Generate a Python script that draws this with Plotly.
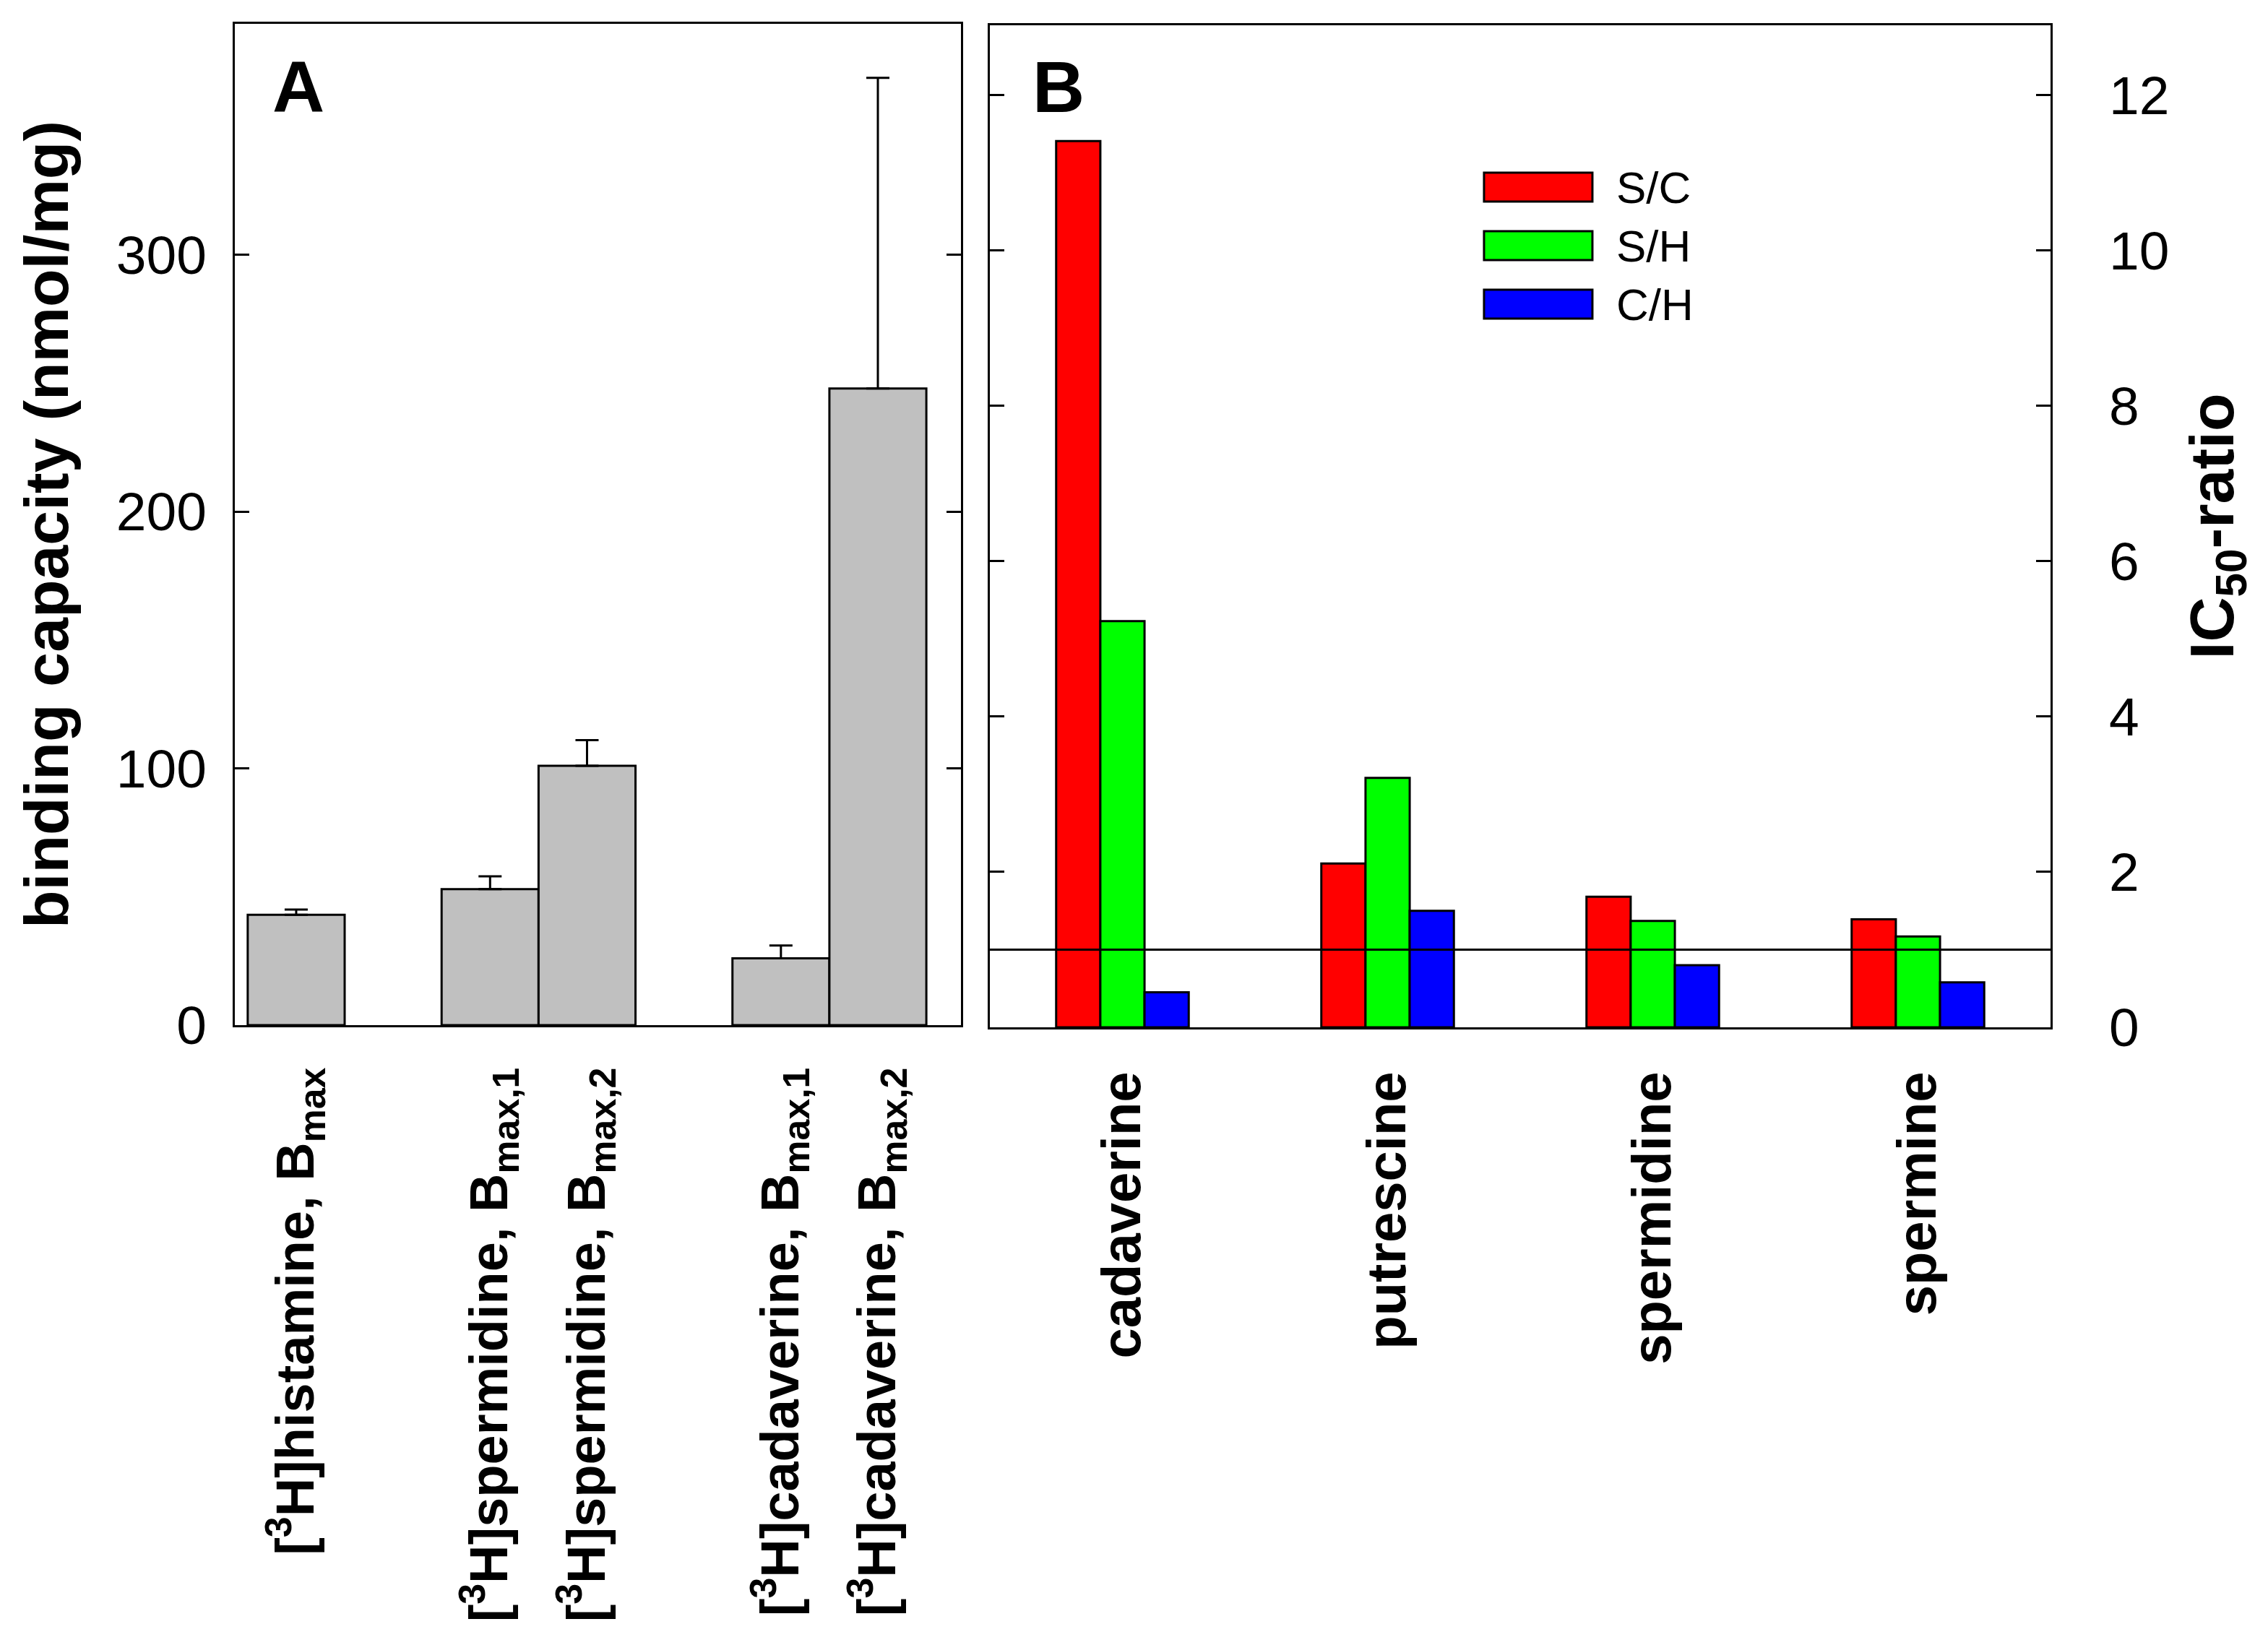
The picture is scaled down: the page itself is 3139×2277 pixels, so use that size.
import plotly.graph_objects as go

# ---------------- data ----------------
# Panel A: binding capacity (nmol/mg)
A_pos = [0, 2, 3, 5, 6]
A_labels = [
    "[<sup>3</sup>H]histamine, B<sub>max</sub>",
    "[<sup>3</sup>H]spermidine, B<sub>max,1</sub>",
    "[<sup>3</sup>H]spermidine, B<sub>max,2</sub>",
    "[<sup>3</sup>H]cadaverine, B<sub>max,1</sub>",
    "[<sup>3</sup>H]cadaverine, B<sub>max,2</sub>",
]
A_values = [43, 53, 101, 26, 248]
A_err = [2, 5, 10, 5, 121]

# Panel B: IC50 ratios
B_categories = ["cadaverine", "putrescine", "spermidine", "spermine"]
B_series = ["S/C", "S/H", "C/H"]
B_colors = ["#FF0000", "#00FF00", "#0000FF"]
B_SC = [11.41, 2.11, 1.68, 1.39]
B_SH = [5.23, 3.21, 1.37, 1.17]
B_CH = [0.45, 1.50, 0.80, 0.58]
B_values = [B_SC, B_SH, B_CH]
B_ref_line = 1

A_yticks = [0, 100, 200, 300]
B_yticks = [0, 2, 4, 6, 8, 10, 12]

# ---------------- style ----------------
FONT = "Liberation Sans, Arial, sans-serif"
PAGE_W, PAGE_H = 3139, 2277
BODY = 8  # default page body margin
W, H = PAGE_W - 2 * BODY, PAGE_H - 2 * BODY
ML, MR, MT, MB = 325 - BODY, 301 - BODY, 33 - BODY, 855 - BODY
PW = W - ML - MR
PH = H - MT - MB

fig = go.Figure()

fig.add_trace(go.Bar(
    x=A_pos, y=A_values, width=1,
    marker=dict(color="#C0C0C0", line=dict(color="black", width=3)),
    error_y=dict(type="data", symmetric=False, array=A_err,
                 arrayminus=[0] * len(A_err), color="black",
                 thickness=3, width=16),
    xaxis="x", yaxis="y", showlegend=False,
))

for name, vals, col in zip(B_series, B_values, B_colors):
    fig.add_trace(go.Bar(
        x=B_categories, y=vals, name=name,
        marker=dict(color=col, line=dict(color="black", width=3)),
        xaxis="x2", yaxis="y2", showlegend=False,
    ))

axis_common = dict(showline=True, linecolor="black", linewidth=3,
                   showgrid=False, zeroline=False, automargin=False)

fig.update_layout(
    width=W, height=H,
    margin=dict(l=ML, r=MR, t=MT, b=MB),
    paper_bgcolor="white", plot_bgcolor="white",
    font=dict(family=FONT, color="black"),
    barmode="group", bargap=0.5, bargroupgap=0,
    xaxis=dict(
        domain=[0, (1330 - 325) / PW], anchor="y",
        range=[-0.633, 6.857],
        tickmode="array", tickvals=A_pos, ticktext=A_labels,
        tickangle=-90, ticks="", mirror=True,
        tickfont=dict(size=74, weight="bold", family=FONT),
        ticklabelstandoff=26,
        **axis_common,
    ),
    yaxis=dict(
        domain=[3 / PH, 1], anchor="x",
        range=[0, 390],
        tickmode="array", tickvals=A_yticks,
        ticks="inside", ticklen=20, tickwidth=3, tickcolor="black",
        mirror="ticks",
        tickfont=dict(size=75, family=FONT),
        ticklabelstandoff=21,
        title=dict(text="binding capacity (nmol/mg)",
                   font=dict(size=86, weight="bold", family=FONT),
                   standoff=38),
        **axis_common,
    ),
    xaxis2=dict(
        domain=[(1370 - 325) / PW, 1], anchor="y2",
        range=[-0.5, 3.5],
        tickangle=-90, ticks="", mirror=True,
        tickfont=dict(size=76, weight="bold", family=FONT),
        ticklabelstandoff=28,
        **axis_common,
    ),
    yaxis2=dict(
        domain=[0, 1 - 2 / PH], anchor="x2", side="right",
        range=[0, 12.9],
        tickmode="array", tickvals=B_yticks,
        ticks="inside", ticklen=20, tickwidth=3, tickcolor="black",
        mirror="ticks",
        tickfont=dict(size=75, family=FONT),
        ticklabelstandoff=63,
        title=dict(text="IC<sub>50</sub>-ratio",
                   font=dict(size=86, weight="bold", family=FONT),
                   standoff=30),
        **axis_common,
    ),
)

# reference line at ratio = 1
fig.add_shape(type="line", xref="x2 domain", yref="y2",
              x0=0, x1=1, y0=B_ref_line, y1=B_ref_line,
              line=dict(color="black", width=3), layer="above")

# panel letters
fig.add_annotation(text="<b>A</b>", xref="x domain", yref="y domain",
                   x=0.05, y=0.937, xanchor="left", yanchor="middle",
                   showarrow=False, font=dict(size=100, family=FONT))
fig.add_annotation(text="<b>B</b>", xref="x2 domain", yref="y2 domain",
                   x=0.039, y=0.9387, xanchor="left", yanchor="middle",
                   showarrow=False, font=dict(size=100, family=FONT))

# legend (drawn as boxes + labels inside panel B)
leg_x0, leg_x1, leg_tx = 0.4659, 0.5681, 0.5892
leg_y0, leg_step, leg_half = 0.8385, 0.0584, 0.0144
for i, (name, col) in enumerate(zip(B_series, B_colors)):
    yc = leg_y0 - i * leg_step
    fig.add_shape(type="rect", xref="x2 domain", yref="y2 domain",
                  x0=leg_x0, x1=leg_x1, y0=yc - leg_half, y1=yc + leg_half,
                  fillcolor=col, line=dict(color="black", width=3),
                  layer="above")
    fig.add_annotation(text=name, xref="x2 domain", yref="y2 domain",
                       x=leg_tx, y=yc, xanchor="left", yanchor="middle",
                       showarrow=False, font=dict(size=62, family=FONT))

fig.write_html("out.html")
